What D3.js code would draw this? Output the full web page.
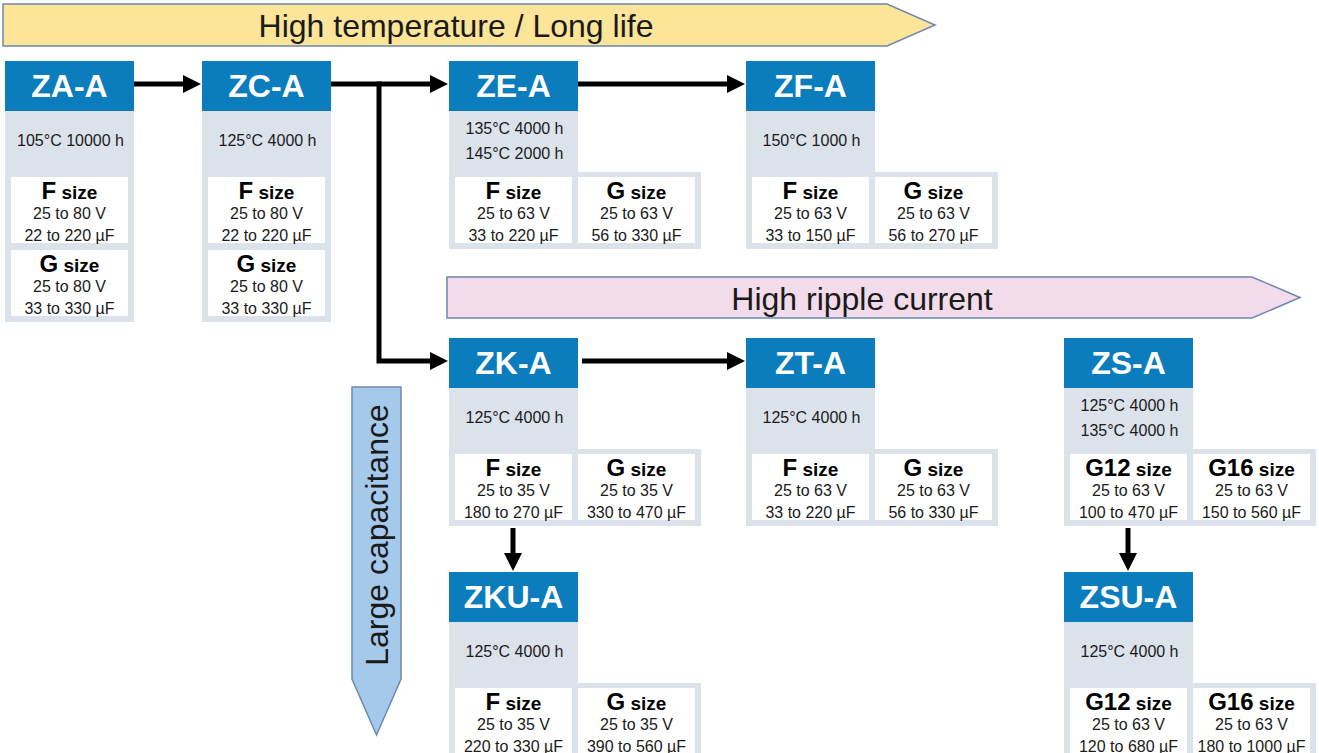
<!DOCTYPE html>
<html>
<head>
<meta charset="utf-8">
<script src="https://cdn.jsdelivr.net/npm/d3@7"></script>
<style>
  body { margin: 0; background: #fff; }
  svg { display: block; font-family: "Liberation Sans", Arial, sans-serif; }
</style>
</head>
<body>
<svg id="chart"></svg>
<script>
// series data
const seriesNames = ["ZA-A", "ZC-A", "ZE-A", "ZF-A", "ZK-A", "ZT-A", "ZS-A", "ZKU-A", "ZSU-A"];
const seriesCol = [0, 1, 2, 3, 2, 3, 4, 2, 4];
const seriesRow = [0, 0, 0, 0, 1, 1, 1, 2, 2];
const ratings = [
  ["105°C 10000 h"], ["125°C 4000 h"], ["135°C 4000 h", "145°C 2000 h"], ["150°C 1000 h"],
  ["125°C 4000 h"], ["125°C 4000 h"], ["125°C 4000 h", "135°C 4000 h"],
  ["125°C 4000 h"], ["125°C 4000 h"]
];
const sizeNames = [
  ["F", "G"], ["F", "G"], ["F", "G"], ["F", "G"], ["F", "G"], ["F", "G"],
  ["G12", "G16"], ["F", "G"], ["G12", "G16"]
];
const voltages = [
  ["25 to 80 V", "25 to 80 V"], ["25 to 80 V", "25 to 80 V"], ["25 to 63 V", "25 to 63 V"],
  ["25 to 63 V", "25 to 63 V"], ["25 to 35 V", "25 to 35 V"], ["25 to 63 V", "25 to 63 V"],
  ["25 to 63 V", "25 to 63 V"], ["25 to 35 V", "25 to 35 V"], ["25 to 63 V", "25 to 63 V"]
];
const capacitances = [
  ["22 to 220 µF", "33 to 330 µF"], ["22 to 220 µF", "33 to 330 µF"], ["33 to 220 µF", "56 to 330 µF"],
  ["33 to 150 µF", "56 to 270 µF"], ["180 to 270 µF", "330 to 470 µF"], ["33 to 220 µF", "56 to 330 µF"],
  ["100 to 470 µF", "150 to 560 µF"], ["220 to 330 µF", "390 to 560 µF"], ["120 to 680 µF", "180 to 1000 µF"]
];
const links = [
  ["ZA-A", "ZC-A"], ["ZC-A", "ZE-A"], ["ZE-A", "ZF-A"], ["ZC-A", "ZK-A"],
  ["ZK-A", "ZT-A"], ["ZK-A", "ZKU-A"], ["ZS-A", "ZSU-A"]
];
const bannerLabels = ["High temperature / Long life", "High ripple current", "Large capacitance"];

const width = 1319, height = 753;
const svg = d3.select("#chart").attr("width", width).attr("height", height);

const blue = "#0b7dbd", grey = "#dce2ea", ink = "#1a1a1a";
const headW = 129, headH = 50;

// column / row positions
const x = d3.scaleOrdinal().domain(d3.range(5)).range([5, 202, 449, 746, 1064]);
const y = d3.scaleOrdinal().domain(d3.range(3)).range([61, 338, 572]);

const nodes = seriesNames.map((name, i) => ({
  name: name,
  x: x(seriesCol[i]),
  y: y(seriesRow[i]),
  stacked: seriesRow[i] === 0 && seriesCol[i] < 2,
  ratings: ratings[i],
  sizes: sizeNames[i].map((s, j) => ({ size: s, v: voltages[i][j], c: capacitances[i][j] }))
}));
const byName = new Map(nodes.map(d => [d.name, d]));

// banners
const banners = svg.append("g").attr("class", "banners");
banners.append("path")
  .attr("d", "M3,4 H887 L935,25 L887,46 H3 Z")
  .attr("fill", "#fce498").attr("stroke", "#6d88b0").attr("stroke-width", 1.5);
banners.append("text").attr("x", 456).attr("y", 36.5)
  .attr("text-anchor", "middle").attr("font-size", 32).attr("fill", ink)
  .text(bannerLabels[0]);

banners.append("path")
  .attr("d", "M447,277 H1252 L1300,297.5 L1252,318 H447 Z")
  .attr("fill", "#f2dcec").attr("stroke", "#6d88b0").attr("stroke-width", 1.5);
banners.append("text").attr("x", 862).attr("y", 309.5)
  .attr("text-anchor", "middle").attr("font-size", 32).attr("fill", ink)
  .text(bannerLabels[1]);

banners.append("path")
  .attr("d", "M352,387 H401 V679 L376.5,735 L352,679 Z")
  .attr("fill", "#a5c9ea").attr("stroke", "#6d88b0").attr("stroke-width", 1.5);
banners.append("text")
  .attr("transform", "translate(387.5,535) rotate(-90)")
  .attr("text-anchor", "middle").attr("font-size", 32).attr("fill", ink)
  .text(bannerLabels[2]);

// series cards
const card = svg.append("g").attr("class", "cards")
  .selectAll("g").data(nodes).join("g")
  .attr("transform", d => `translate(${d.x},${d.y})`);

card.filter(d => d.stacked).append("rect")
  .attr("x", 0).attr("y", headH).attr("width", headW).attr("height", 211).attr("fill", grey);
card.filter(d => !d.stacked).append("rect")
  .attr("x", 0).attr("y", headH).attr("width", headW).attr("height", 62).attr("fill", grey);
card.filter(d => !d.stacked).append("rect")
  .attr("x", 0).attr("y", 111).attr("width", 252).attr("height", 77).attr("fill", grey);

card.append("rect")
  .attr("width", headW).attr("height", headH).attr("fill", blue);
card.append("text")
  .attr("x", headW / 2).attr("y", 36)
  .attr("text-anchor", "middle").attr("font-size", 32).attr("font-weight", "bold")
  .attr("fill", "#fff").text(d => d.name);

card.each(function(d) {
  const g = d3.select(this);
  const lineY = d.ratings.length === 1 ? [85] : [73, 98];
  d.ratings.forEach((r, k) => {
    g.append("text").attr("x", headW / 2 + 1).attr("y", lineY[k])
      .attr("text-anchor", "middle").attr("font-size", 16).attr("fill", ink).text(r);
  });

  d.sizes.forEach((s, j) => {
    const bx = d.stacked ? 6 : (j === 0 ? 6 : 129);
    const by = d.stacked ? (j === 0 ? 116 : 189) : 116;
    const bw = 117;
    const box = g.append("g").attr("transform", `translate(${bx},${by})`);
    box.append("rect").attr("width", bw).attr("height", 66).attr("fill", "#fff");
    const t = box.append("text").attr("x", bw / 2).attr("y", 22)
      .attr("text-anchor", "middle").attr("font-weight", "bold").attr("fill", "#000");
    t.append("tspan").attr("font-size", 24).text(s.size);
    t.append("tspan").attr("font-size", 19).text(" size");
    box.append("text").attr("x", bw / 2).attr("y", 41.5)
      .attr("text-anchor", "middle").attr("font-size", 16).attr("fill", ink).text(s.v);
    box.append("text").attr("x", bw / 2).attr("y", 63.5)
      .attr("text-anchor", "middle").attr("font-size", 16).attr("fill", ink).text(s.c);
  });
});

// arrows
const arrows = svg.append("g").attr("class", "arrows");
function arrowHead(tx, ty, dir) {
  const pts = dir === "right"
    ? [[tx, ty], [tx - 18, ty - 9], [tx - 18, ty + 9]]
    : [[tx, ty], [tx - 9, ty - 18], [tx + 9, ty - 18]];
  arrows.append("polygon").attr("points", pts.map(p => p.join(",")).join(" ")).attr("fill", "#000");
}

links.forEach(([a, b]) => {
  const s = byName.get(a), t = byName.get(b);
  if (s.y === t.y) {
    const yy = s.y + 23;
    const x0 = s.x + headW + (s.name === "ZK-A" ? 4 : 0);
    const x1 = t.x - 1;
    arrows.append("line").attr("x1", x0).attr("y1", yy).attr("x2", x1 - 16).attr("y2", yy)
      .attr("stroke", "#000").attr("stroke-width", 5);
    arrowHead(x1, yy, "right");
  } else if (s.x === t.x) {
    const xx = s.x + 64;
    const y0 = s.y + 190, y1 = t.y - 1;
    arrows.append("line").attr("x1", xx).attr("y1", y0).attr("x2", xx).attr("y2", y1 - 16)
      .attr("stroke", "#000").attr("stroke-width", 5);
    arrowHead(xx, y1, "down");
  } else {
    const bx = s.x + headW + 48;
    const y0 = s.y + 23, y1 = t.y + 23, x1 = t.x - 1;
    arrows.append("path")
      .attr("d", `M${bx},${y0 - 2.5} V${y1} H${x1 - 16}`)
      .attr("fill", "none").attr("stroke", "#000").attr("stroke-width", 5)
      .attr("stroke-linejoin", "miter");
    arrowHead(x1, y1, "right");
  }
});
</script>
</body>
</html>
